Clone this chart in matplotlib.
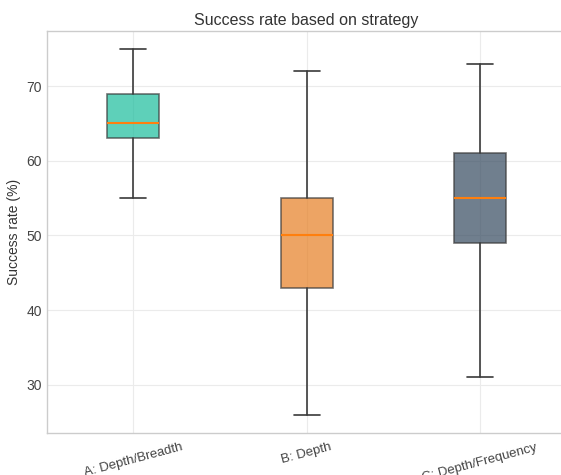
import numpy as np
import matplotlib.pyplot as plt

# box statistics
labels = ["A: Depth/Breadth", "B: Depth", "C: Depth/Frequency"]
whislo = [55, 26, 31]
q1 = [63, 43, 49]
med = [65, 50, 55]
q3 = [69, 55, 61]
whishi = [75, 72, 73]
colors = ["#1abc9c", "#e67e22", "#34495e"]

plt.style.use("seaborn-v0_8-whitegrid")
plt.rcParams["font.family"] = ["Liberation Sans", "DejaVu Sans"]

stats = []
for i in range(len(labels)):
    stats.append({"label": labels[i], "whislo": whislo[i], "q1": q1[i],
                  "med": med[i], "q3": q3[i], "whishi": whishi[i], "fliers": []})

fig = plt.figure(figsize=(5.61, 4.75), dpi=100)
ax = fig.add_axes([46.5 / 561, 42 / 475, 520 / 561, 402.5 / 475])

bp = ax.bxp(stats, widths=0.3, patch_artist=True, showfliers=False,
            boxprops=dict(edgecolor="#3a3a3a", linewidth=1.2),
            whiskerprops=dict(color="#3a3a3a", linewidth=1.2),
            capprops=dict(color="#3a3a3a", linewidth=1.2),
            medianprops=dict(color="#ff7f0e", linewidth=1.5))
for patch, c in zip(bp["boxes"], colors):
    patch.set_facecolor(c)
    patch.set_alpha(0.7)

ax.set_xlim(0.5, 3.5)
ax.set_ylim(23.55, 77.45)
ax.set_yticks([30, 40, 50, 60, 70])
ax.set_title("Success rate based on strategy", fontsize=11.5, color="#333333", pad=4)
ax.set_ylabel("Success rate (%)", fontsize=10, color="#333333", labelpad=4)
ax.tick_params(axis="y", labelsize=10, labelcolor="#444444")
ax.tick_params(axis="x", labelsize=9.5, labelcolor="#444444", pad=6)
plt.setp(ax.get_xticklabels(), rotation=15)
ax.grid(True, color="#ebebeb", linewidth=0.8)
for s in ax.spines.values():
    s.set_visible(True)
    s.set_color("#cccccc")
    s.set_linewidth(1.0)

plt.savefig("out.png", dpi=100)
